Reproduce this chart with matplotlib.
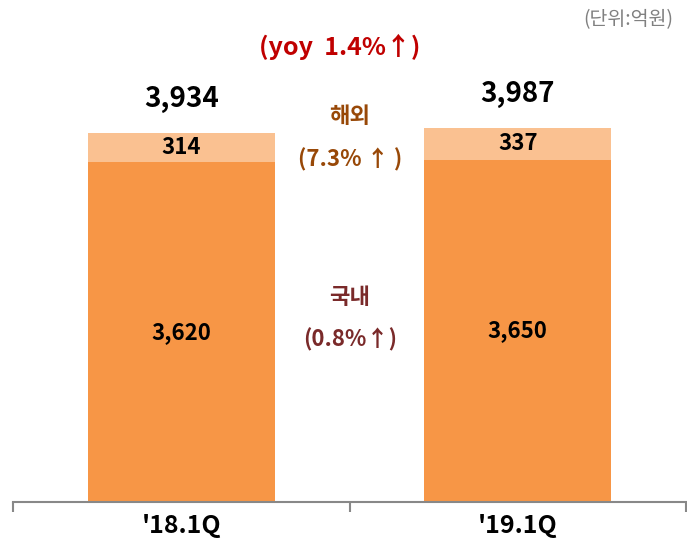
import matplotlib
matplotlib.use("Agg")
import matplotlib.pyplot as plt
import numpy as np

plt.rcParams['font.family'] = ['Noto Sans CJK KR', 'DejaVu Sans']

# 데이터 (단위: 억원)
quarters = ["'18.1Q", "'19.1Q"]
domestic = [3620, 3650]
overseas = [314, 337]
totals = [a + b for a, b in zip(domestic, overseas)]

c_dom = "#F79646"
c_ovs = "#FAC191"

fig = plt.figure(figsize=(6.87, 5.48), dpi=100)
ax = fig.add_axes([13 / 687, 46 / 548, 673 / 687, 502 / 548])

x = np.arange(len(quarters))
ax.bar(x, domestic, width=0.556, color=c_dom)
ax.bar(x, overseas, width=0.556, bottom=domestic, color=c_ovs)

ax.set_xlim(-0.5, 1.5)
ax.set_ylim(0, 5350)

# 막대 라벨
for i in range(len(quarters)):
    ax.text(x[i], domestic[i] / 2, f"{domestic[i]:,}", ha="center", va="center",
            fontsize=16, fontweight="bold", color="black")
    ax.text(x[i], domestic[i] + overseas[i] / 2, f"{overseas[i]:,}", ha="center", va="center",
            fontsize=16, fontweight="bold", color="black")
    ax.text(x[i], totals[i] + 365, f"{totals[i]:,}", ha="center", va="center",
            fontsize=20, fontweight="bold", color="black")

# 축 꾸미기
for s in ["top", "right", "left"]:
    ax.spines[s].set_visible(False)
ax.spines["bottom"].set_color("#888888")
ax.spines["bottom"].set_linewidth(1.5)
ax.set_yticks([])
ax.set_xticks(x)
ax.set_xticklabels(quarters, fontsize=18, fontweight="bold")
ax.tick_params(axis="x", which="major", length=0, pad=9)
ax.set_xticks([-0.5, 0.5, 1.5], minor=True)
ax.tick_params(axis="x", which="minor", length=7, width=1.5, color="#888888", direction="out")

# 증감률 주석
fig.text(340 / 687, 1 - 47 / 548, "(yoy  1.4%↑)", ha="center", va="center",
         fontsize=18, fontweight="bold", color="#C00000")
fig.text(350 / 687, 1 - 117 / 548, "해외", ha="center", va="center",
         fontsize=16, fontweight="bold", color="#984807")
fig.text(350 / 687, 1 - 160 / 548, "(7.3% ↑ )", ha="center", va="center",
         fontsize=16, fontweight="bold", color="#984807")
fig.text(350 / 687, 1 - 298 / 548, "국내", ha="center", va="center",
         fontsize=16, fontweight="bold", color="#7A2A2A")
fig.text(350 / 687, 1 - 340 / 548, "(0.8%↑)", ha="center", va="center",
         fontsize=16, fontweight="bold", color="#7A2A2A")
fig.text(628 / 687, 1 - 20 / 548, "(단위:억원)", ha="center", va="center",
         fontsize=14, color="#808080")

fig.savefig("out.png", dpi=100)
